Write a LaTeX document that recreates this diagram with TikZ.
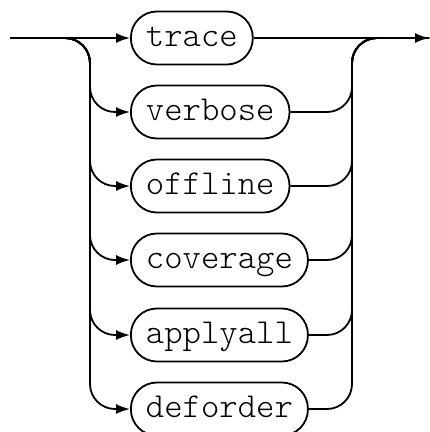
\documentclass[tikz,border=0pt]{standalone}
\usepackage{fontspec}
\setmonofont{Latin Modern Mono Light}
\usetikzlibrary{arrows.meta}
\tikzset{
  term/.style={draw, line width=1.8pt, rounded corners=26pt, minimum height=53pt,
    inner xsep=15pt, text height=21pt, text depth=5pt,
    font=\ttfamily\fontsize{35}{35}\selectfont, anchor=west},
  rail/.style={line width=1.8pt, rounded corners=25pt},
  tip/.style={-{Latex[length=14pt,width=10pt]}}
}
\begin{document}
\begin{tikzpicture}[x=1pt,y=-1pt]
\useasboundingbox (0,0) rectangle (430,432);
\coordinate (start) at (10,38);
\coordinate (end) at (429,38);
\coordinate (L) at (90,38);
\coordinate (R) at (352,38);
\node[term] (n1) at (130,38) {trace};
\node[term] (n2) at (130,112) {verbose};
\node[term] (n3) at (130,186) {offline};
\node[term] (n4) at (130,260) {coverage};
\node[term] (n5) at (130,335) {applyall};
\node[term] (n6) at (130,409) {deforder};
\draw[rail,tip] (start) -- (n1.west);
\draw[rail,tip] (n1.east) -- (end);
\foreach \n in {n2,n3,n4,n5,n6}{
  \draw[rail,tip] (start) -- (L) -- (L |- \n.west) -- (\n.west);
  \draw[rail] (\n.east) -- (R |- \n.east) -- (R) -- (end);
}
\end{tikzpicture}
\end{document}
